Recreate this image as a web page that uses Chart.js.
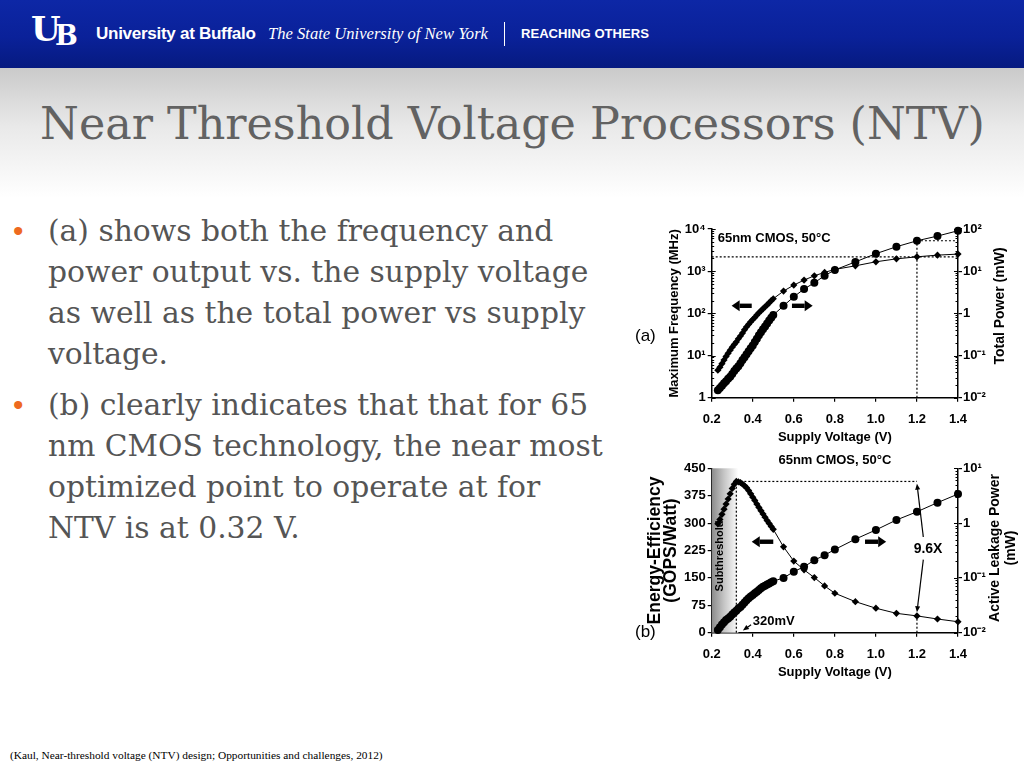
<!DOCTYPE html>
<html>
<head>
<meta charset="utf-8">
<title>Near Threshold Voltage Processors (NTV)</title>
<script src="https://cdn.jsdelivr.net/npm/chart.js@4.4.1/dist/chart.umd.min.js"></script>
<style>
  html, body { margin: 0; padding: 0; }
  body { width: 1024px; height: 768px; position: relative; overflow: hidden; background: #fff; }
  .hdr { position: absolute; left: 0; top: 0; width: 1024px; height: 68px;
    background: linear-gradient(to bottom, #0d27a6 0%, #0a2199 55%, #061a80 100%); color: #fff; }
  .hdr span { position: absolute; white-space: nowrap; line-height: 20px; top: 24px; }
  .ub-u { left: 31px; top: 12px !important; font: bold 34px "DejaVu Serif", serif; line-height: 34px !important; }
  .ub-b { left: 55px; top: 22px !important; font: bold 27px "DejaVu Serif", serif; line-height: 27px !important; }
  .uab { left: 96px; font: bold 16px Arial, "Liberation Sans", sans-serif; letter-spacing: -0.3px; }
  .suny { left: 268px; font: italic 17px "Liberation Serif", serif; }
  .sep { left: 504px; top: 22px !important; width: 1px; height: 24px; background: #fff; }
  .reach { left: 521px; font: bold 13px Arial, "Liberation Sans", sans-serif; }
  .band { position: absolute; left: 0; top: 68px; width: 1024px; height: 130px;
    background: linear-gradient(to bottom, #cacaca 0%, #e9e9e9 45%, #ffffff 100%); }
  h1 { position: absolute; left: 40px; top: 94px; margin: 0; font: normal 46px "DejaVu Serif", serif;
    line-height: 60px; color: #626262; white-space: nowrap; }
  .para { position: absolute; left: 48px; font-family: "DejaVu Serif", serif; font-size: 27px;
    line-height: 41px; color: #555; white-space: nowrap; }
  .dot { position: absolute; left: -35px; top: 0; color: #ee6a1f; font-family: Arial, sans-serif; }
  .cite { position: absolute; left: 10px; top: 749px; font: 11px "Liberation Serif", serif; color: #000; white-space: nowrap; }
  canvas { position: absolute; background: #fff; }
  #chartA { left: 630px; top: 215px; }
  #chartB { left: 630px; top: 450px; }
</style>
</head>
<body>
<div class="hdr">
  <span class="ub-u">U</span><span class="ub-b">B</span>
  <span class="uab" id="uab">University at Buffalo</span>
  <span class="suny" id="suny">The State University of New York</span>
  <span class="sep"></span>
  <span class="reach" id="reach">REACHING OTHERS</span>
</div>
<div class="band"></div>
<h1 id="title">Near Threshold Voltage Processors (NTV)</h1>

<div class="para" style="top:210px"><span class="dot">•</span>(a) shows both the frequency and<br>power output vs. the supply voltage<br>as well as the total power vs supply<br>voltage.</div>
<div class="para" style="top:384px"><span class="dot">•</span>(b) clearly indicates that that for 65<br><span id="longest">nm CMOS technology, the near most</span><br>optimized point to operate at for<br>NTV is at 0.32 V.</div>

<div class="cite" id="cite">(Kaul, Near-threshold voltage (NTV) design; Opportunities and challenges, 2012)</div>

<canvas id="chartA" width="390" height="235"></canvas>
<canvas id="chartB" width="390" height="240"></canvas>

<script>
// supply voltage (V) of every measured point
const voltage = [0.23, 0.24, 0.25, 0.26, 0.27, 0.28, 0.29, 0.30, 0.31, 0.32, 0.33, 0.34, 0.35, 0.36,
  0.37, 0.38, 0.39, 0.40, 0.41, 0.42, 0.43, 0.44, 0.45, 0.46, 0.47, 0.48, 0.49, 0.50,
  0.55, 0.60, 0.65, 0.70, 0.75, 0.80, 0.90, 1.00, 1.10, 1.20, 1.30, 1.40];

// (a) maximum frequency (MHz), left axis
const maxFrequency = [4.5, 5.3, 6.4, 7.8, 9.5, 11.3, 13.4, 15.8, 18.3, 21, 25, 29, 34, 41,
  48, 55, 63, 71, 80, 91, 103, 115, 128, 143, 158, 178, 200, 222,
  337, 468, 615, 777, 935, 1100, 1340, 1670, 1960, 2190, 2400, 2540];

// (a) total power (mW), right axis
const totalPower = [0.0151, 0.0170, 0.0191, 0.0219, 0.0245, 0.0282, 0.0316, 0.0363, 0.0427, 0.049,
  0.056, 0.066, 0.078, 0.091, 0.107, 0.126, 0.148, 0.174, 0.209, 0.251, 0.302, 0.355, 0.417, 0.49,
  0.575, 0.676, 0.79, 0.91, 1.51, 2.47, 3.77, 5.3, 7.8, 10.7, 16.6, 26, 38, 52.6, 68, 91];

// (b) energy efficiency (GOPS/Watt), left axis
const energyEfficiency = [298, 310, 324, 338, 352, 366, 380, 395, 406, 414, 413, 411, 407, 402,
  397, 389, 380, 371, 362, 352, 343, 334, 325, 316, 307, 299, 291, 283,
  235, 196, 172, 151, 128, 108, 85, 67, 53, 46, 37.5, 30];

// (b) active leakage power (mW), right axis
const leakagePower = [0.0112, 0.0126, 0.0141, 0.0155, 0.0170, 0.0182, 0.0195, 0.0214, 0.0234, 0.0251,
  0.0275, 0.0295, 0.0324, 0.0355, 0.0389, 0.0427, 0.0457, 0.049, 0.0525, 0.056, 0.060, 0.065, 0.069,
  0.072, 0.076, 0.079, 0.083, 0.087, 0.10, 0.13, 0.16, 0.21, 0.26, 0.33, 0.51, 0.75, 1.14, 1.61, 2.36, 3.39];

const voltTicks = [0.2, 0.4, 0.6, 0.8, 1.0, 1.2, 1.4];
const freqTicks = [1, 10, 100, 1000, 10000];
const freqTickLabels = ['1', '10¹', '10²', '10³', '10⁴'];
const powerTicks = [0.01, 0.1, 1, 10, 100];
const powerTickLabels = ['10⁻²', '10⁻¹', '1', '10¹', '10²'];
const effTicks = [0, 75, 150, 225, 300, 375, 450];
const leakTicks = [0.01, 0.1, 1, 10];
const leakTickLabels = ['10⁻²', '10⁻¹', '1', '10¹'];

const nominalVolt = 1.2;
const condition = '65nm CMOS, 50°C';

// fit slide text to the widths it takes in the original
const fitText = (el, width) => {
  const ctx = document.createElement('canvas').getContext('2d');
  const cs = getComputedStyle(el);
  ctx.font = `${cs.fontStyle} ${cs.fontWeight} 100px ${cs.fontFamily}`;
  const w = ctx.measureText(el.textContent).width;
  return (100 * width) / w;
};
document.getElementById('title').style.fontSize = fitText(document.getElementById('title'), 945) + 'px';
const bodySize = fitText(document.getElementById('longest'), 555);
document.querySelectorAll('.para').forEach((p) => { p.style.fontSize = bodySize + 'px'; });
document.getElementById('cite').style.fontSize = fitText(document.getElementById('cite'), 373) + 'px';
document.getElementById('suny').style.fontSize = fitText(document.getElementById('suny'), 220) + 'px';
document.getElementById('uab').style.fontSize = fitText(document.getElementById('uab'), 166) + 'px';
document.getElementById('reach').style.fontSize = fitText(document.getElementById('reach'), 128) + 'px';

const FONT = 'Arial, "Liberation Sans", sans-serif';
const tickFont = { family: FONT, size: 13, weight: 'bold' };
const titleFont = { family: FONT, size: 13, weight: 'bold' };

const points = (ys) => voltage.map((x, i) => ({ x, y: ys[i] }));

const diamondSet = (ys, axis) => ({
  data: points(ys), yAxisID: axis, borderColor: '#000', backgroundColor: '#000', borderWidth: 1,
  pointStyle: 'rectRot', pointRadius: 3.6, pointBorderWidth: 0, tension: 0, clip: false,
});
const circleSet = (ys, axis) => ({
  data: points(ys), yAxisID: axis, borderColor: '#000', backgroundColor: '#000', borderWidth: 1,
  pointStyle: 'circle', pointRadius: 4, pointBorderWidth: 0, tension: 0, clip: false,
});

const axisBase = {
  grid: { drawOnChartArea: false, color: '#000', tickLength: 4, lineWidth: 1.2 },
  border: { color: '#000', width: 1.5 },
};

const xAxis = (height, bottomPad) => ({
  ...axisBase,
  type: 'linear', min: 0.2, max: 1.4,
  afterBuildTicks: (s) => { s.ticks = voltTicks.map((value) => ({ value })); },
  afterFit: (s) => { s.height = height; },
  ticks: { font: tickFont, color: '#000', padding: 10, maxRotation: 0, autoSkip: false, callback: (v) => v.toFixed(1) },
  title: { display: true, text: 'Supply Voltage (V)', font: titleFont, color: '#000', padding: { top: 0, bottom: bottomPad } },
});

const leftAxis = (extra) => ({
  ...axisBase,
  position: 'left',
  afterFit: (s) => { s.width = 81.7; },
  ...extra,
});
const rightAxis = (extra) => ({
  ...axisBase,
  position: 'right',
  afterFit: (s) => { s.width = 62; },
  ...extra,
});

// drawing helpers for the figure's annotations
const dotted = (ctx, x1, y1, x2, y2) => {
  ctx.save();
  ctx.setLineDash([2, 2]);
  ctx.lineWidth = 1.2;
  ctx.strokeStyle = '#000';
  ctx.beginPath();
  ctx.moveTo(x1, y1);
  ctx.lineTo(x2, y2);
  ctx.stroke();
  ctx.restore();
};

const blockArrow = (ctx, xTail, xTip, y) => {
  const dir = Math.sign(xTip - xTail);
  const head = 8;
  const xNeck = xTip - dir * head;
  ctx.save();
  ctx.fillStyle = '#000';
  ctx.fillRect(Math.min(xTail, xNeck), y - 2.2, Math.abs(xNeck - xTail), 4.4);
  ctx.beginPath();
  ctx.moveTo(xTip, y);
  ctx.lineTo(xNeck, y - 5.5);
  ctx.lineTo(xNeck, y + 5.5);
  ctx.closePath();
  ctx.fill();
  ctx.restore();
};

const thinArrow = (ctx, x1, y1, x2, y2) => {
  const a = Math.atan2(y2 - y1, x2 - x1);
  const h = 6;
  ctx.save();
  ctx.strokeStyle = '#000';
  ctx.fillStyle = '#000';
  ctx.lineWidth = 1.2;
  ctx.beginPath();
  ctx.moveTo(x1, y1);
  ctx.lineTo(x2 - Math.cos(a) * h * 0.8, y2 - Math.sin(a) * h * 0.8);
  ctx.stroke();
  ctx.beginPath();
  ctx.moveTo(x2, y2);
  ctx.lineTo(x2 - h * Math.cos(a) + 2.5 * Math.sin(a), y2 - h * Math.sin(a) - 2.5 * Math.cos(a));
  ctx.lineTo(x2 - h * Math.cos(a) - 2.5 * Math.sin(a), y2 - h * Math.sin(a) + 2.5 * Math.cos(a));
  ctx.closePath();
  ctx.fill();
  ctx.restore();
};

const text = (ctx, str, x, y, font, align = 'left', rot = 0) => {
  ctx.save();
  ctx.translate(x, y);
  ctx.rotate(rot);
  ctx.font = font;
  ctx.fillStyle = '#000';
  ctx.textAlign = align;
  ctx.textBaseline = 'middle';
  ctx.fillText(str, 0, 0);
  ctx.restore();
};

// small log-decade ticks inside the axis and the inner half of the major ticks
const logMinorTicks = (ctx, scale, lo, hi) => {
  const inward = scale.position === 'left' ? 1 : -1;
  const x0 = scale.position === 'left' ? scale.right : scale.left;
  ctx.save();
  ctx.strokeStyle = '#000';
  ctx.lineWidth = 1;
  ctx.beginPath();
  for (let d = lo; d < hi; d++) {
    for (let k = 1; k <= 9; k++) {
      const y = Math.round(scale.getPixelForValue(k * Math.pow(10, d))) + 0.5;
      ctx.moveTo(x0, y);
      ctx.lineTo(x0 + inward * (k === 1 ? 4 : 2.5), y);
    }
  }
  const yTop = Math.round(scale.getPixelForValue(Math.pow(10, hi))) + 0.5;
  ctx.moveTo(x0, yTop);
  ctx.lineTo(x0 + inward * 4, yTop);
  ctx.stroke();
  ctx.restore();
};

const i12 = voltage.indexOf(nominalVolt);

const notesA = {
  id: 'notesA',
  afterDatasetsDraw(chart) {
    const { ctx, chartArea: area, scales: { x, yF, yP } } = chart;
    dotted(ctx, area.left, yF.getPixelForValue(maxFrequency[i12]), area.right, yF.getPixelForValue(maxFrequency[i12]));
    dotted(ctx, x.getPixelForValue(nominalVolt), yP.getPixelForValue(totalPower[i12]), area.right, yP.getPixelForValue(totalPower[i12]));
    dotted(ctx, x.getPixelForValue(nominalVolt), area.bottom, x.getPixelForValue(nominalVolt), yP.getPixelForValue(totalPower[i12]));
    blockArrow(ctx, x.getPixelForValue(0.395), x.getPixelForValue(0.297), yF.getPixelForValue(151));
    blockArrow(ctx, x.getPixelForValue(0.591), x.getPixelForValue(0.692), yF.getPixelForValue(151));
    text(ctx, condition, area.left + 6, area.top + 9, `bold 13px ${FONT}`);
    text(ctx, '(a)', 5, 121, `17px ${FONT}`);
    text(ctx, 'Total Power (mW)', 370, 91, `bold 14px ${FONT}`, 'center', -Math.PI / 2);
    logMinorTicks(ctx, yF, 0, 4);
    logMinorTicks(ctx, yP, -2, 2);
  },
};

const notesB = {
  id: 'notesB',
  beforeDatasetsDraw(chart) {
    const { ctx, chartArea: area, scales: { x, yE } } = chart;
    const xEnd = x.getPixelForValue(0.33);
    const grad = ctx.createLinearGradient(area.left, 0, xEnd, 0);
    grad.addColorStop(0, '#8a8a8a');
    grad.addColorStop(0.45, '#c4c4c4');
    grad.addColorStop(1, '#ffffff');
    ctx.save();
    ctx.fillStyle = grad;
    ctx.fillRect(area.left, area.top, xEnd - area.left, area.bottom - area.top);
    ctx.restore();
    text(ctx, 'Subthreshold', x.getPixelForValue(0.238), yE.getPixelForValue(210), `bold 11px ${FONT}`, 'center', -Math.PI / 2);

    const peak = Math.max(...energyEfficiency);
    const vPeak = voltage[energyEfficiency.indexOf(peak)];
    dotted(ctx, x.getPixelForValue(vPeak), area.bottom, x.getPixelForValue(vPeak), yE.getPixelForValue(peak));
    dotted(ctx, x.getPixelForValue(vPeak), yE.getPixelForValue(peak), x.getPixelForValue(nominalVolt), yE.getPixelForValue(peak));
    dotted(ctx, x.getPixelForValue(nominalVolt), area.bottom, x.getPixelForValue(nominalVolt), yE.getPixelForValue(energyEfficiency[i12]));
  },
  afterDatasetsDraw(chart) {
    const { ctx, chartArea: area, scales: { x, yE } } = chart;
    const px = (v) => x.getPixelForValue(v);
    const py = (v) => yE.getPixelForValue(v);
    blockArrow(ctx, px(0.5), px(0.395), py(249));
    blockArrow(ctx, px(0.947), px(1.05), py(249));
    text(ctx, '9.6X', px(1.254), py(229), `bold 14px ${FONT}`, 'center');
    thinArrow(ctx, px(1.231), py(262), px(1.2), py(408));
    thinArrow(ctx, px(1.231), py(200), px(1.2), py(56));
    text(ctx, '320mV', px(0.4), py(32), `bold 13px ${FONT}`);
    thinArrow(ctx, px(0.392), py(22), px(0.352), py(6));
    text(ctx, condition, (area.left + area.right) / 2, area.top - 8, `bold 13px ${FONT}`, 'center');
    text(ctx, '(b)', 5, 182, `17px ${FONT}`);
    text(ctx, 'Active Leakage Power', 365, 98, `bold 14px ${FONT}`, 'center', -Math.PI / 2);
    text(ctx, '(mW)', 381, 98, `bold 14px ${FONT}`, 'center', -Math.PI / 2);
    logMinorTicks(ctx, chart.scales.yL, -2, 1);
  },
};

new Chart(document.getElementById('chartA').getContext('2d'), {
  type: 'line',
  data: { datasets: [diamondSet(maxFrequency, 'yF'), circleSet(totalPower, 'yP')] },
  options: {
    responsive: false,
    animation: false,
    devicePixelRatio: 1,
    layout: { padding: { top: 14, left: 0, right: 0, bottom: 0 } },
    plugins: { legend: { display: false }, tooltip: { enabled: false } },
    scales: {
      x: xAxis(52.3, 4.5),
      yF: leftAxis({
        type: 'logarithmic', min: 1, max: 10000,
        afterBuildTicks: (s) => { s.ticks = freqTicks.map((value) => ({ value })); },
        ticks: { font: tickFont, color: '#000', padding: 2, autoSkip: false, callback: (v, i) => freqTickLabels[i] },
        title: { display: true, text: 'Maximum Frequency (MHz)', font: titleFont, color: '#000', padding: { top: 37, bottom: 0 } },
      }),
      yP: rightAxis({
        type: 'logarithmic', min: 0.01, max: 100,
        afterBuildTicks: (s) => { s.ticks = powerTicks.map((value) => ({ value })); },
        ticks: { font: tickFont, color: '#000', padding: 1, autoSkip: false, callback: (v, i) => powerTickLabels[i] },
      }),
    },
  },
  plugins: [notesA],
});

new Chart(document.getElementById('chartB').getContext('2d'), {
  type: 'line',
  data: { datasets: [diamondSet(energyEfficiency, 'yE'), circleSet(leakagePower, 'yL')] },
  options: {
    responsive: false,
    animation: false,
    devicePixelRatio: 1,
    layout: { padding: { top: 18.3, left: 0, right: 0, bottom: 0 } },
    plugins: { legend: { display: false }, tooltip: { enabled: false } },
    scales: {
      x: xAxis(57.3, 9.5),
      yE: leftAxis({
        type: 'linear', min: 0, max: 450,
        afterBuildTicks: (s) => { s.ticks = effTicks.map((value) => ({ value })); },
        ticks: { font: tickFont, color: '#000', padding: 2, autoSkip: false },
        title: { display: true, text: ['Energy-Efficiency', '(GOPS/Watt)'], font: { family: FONT, size: 17.5, weight: 'bold', lineHeight: 0.954 }, color: '#000', padding: { top: 16.6, bottom: 0 } },
      }),
      yL: rightAxis({
        type: 'logarithmic', min: 0.01, max: 10,
        afterBuildTicks: (s) => { s.ticks = leakTicks.map((value) => ({ value })); },
        ticks: { font: tickFont, color: '#000', padding: 1, autoSkip: false, callback: (v, i) => leakTickLabels[i] },
      }),
    },
  },
  plugins: [notesB],
});
</script>
</body>
</html>
